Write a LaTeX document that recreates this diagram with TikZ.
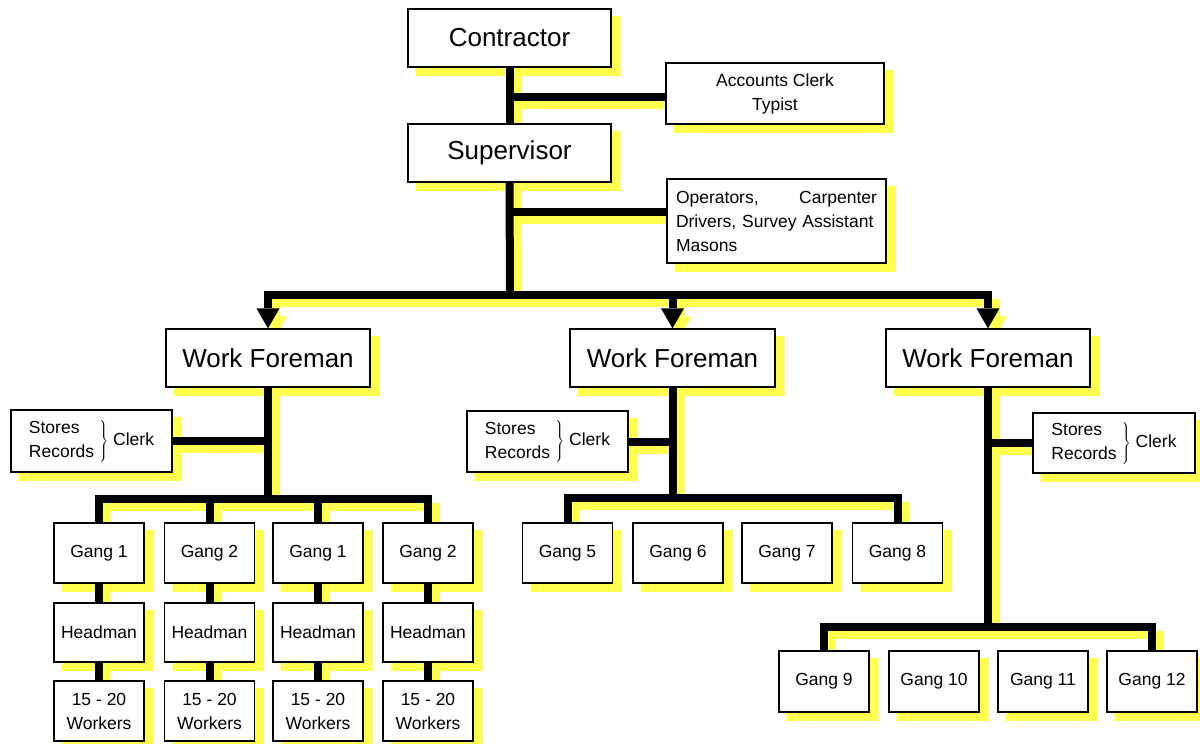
\documentclass[tikz,border=0pt]{standalone}
\usepackage{fontspec}
\setmainfont{Liberation Sans}
\usetikzlibrary{arrows.meta}
\definecolor{shadowyellow}{RGB}{255,255,80}
\pgfdeclarelayer{paper}
\pgfdeclarelayer{lineshadow}
\pgfdeclarelayer{boxshadow}
\pgfdeclarelayer{lines}
\pgfsetlayers{paper,lineshadow,boxshadow,lines,main}
\tikzset{
  conn/.style={draw, line width=8pt},
  tipline/.style={conn, -{Triangle[length=20pt,width=23pt,line width=0pt]}},
  box/.style={draw=black, line width=1.2pt, fill=white, inner sep=0pt, align=center,
    font=\fontsize{17.5}{24}\selectfont},
  bigbox/.style={box, minimum width=204pt, minimum height=58pt, font=\fontsize{26}{30}\selectfont},
  smallbox/.style={box, minimum width=90pt, minimum height=60pt},
  sidebox/.style={box, minimum width=161pt, minimum height=61pt},
}
\newcommand\storestext{\begin{tabular}{@{}l@{}}Stores\\Records\end{tabular}\hspace{4pt}$\left.\vrule height 17pt depth 17pt width 0pt\right\}$\hspace{5pt}Clerk}
\newcommand\orgconnectors{%
  \draw[conn] (contractor.south) -- (supervisor.north);
  \draw[conn] (acb) -- (acb -| contractor.south);
  \draw[conn] (opb) -- (opb -| supervisor.south);
  \draw[conn] (supervisor.south) -- (bus);
  \draw[conn, line cap=rect] (bus -| wfa.north) -- (bus -| wfc.north);
  \draw[tipline] (bus -| wfa.north) -- (wfa.north);
  \draw[tipline] (bus -| wfb.north) -- (wfb.north);
  \draw[tipline] (bus -| wfc.north) -- (wfc.north);
  % foreman 1
  \draw[conn] (wfa.south) -- (wfa.south |- sba);
  \draw[conn] (sta.east) -- (sta.east -| wfa.south);
  \draw[conn] (ga.north) -- (ga.north |- sba) -- (gd.north |- sba) -- (gd.north);
  \draw[conn] (gb.north) -- (gb.north |- sba);
  \draw[conn] (gc.north) -- (gc.north |- sba);
  \foreach \i in {a,b,c,d}{
    \draw[conn] (g\i.south) -- (h\i.north);
    \draw[conn] (h\i.south) -- (w\i.north);
  }
  % foreman 2
  \draw[conn] (wfb.south) -- (wfb.south |- sbb);
  \draw[conn] (stb.east) -- (stb.east -| wfb.south);
  \draw[conn] (g5.north) -- (g5.north |- sbb) -- (g8.north |- sbb) -- (g8.north);
  % foreman 3
  \draw[conn] (wfc.south) -- (wfc.south |- sbc);
  \draw[conn] (stc.west) -- (stc.west -| wfc.south);
  \draw[conn] (g9.north) -- (g9.north |- sbc) -- (g12.north |- sbc) -- (g12.north);
}
\begin{document}
\begin{tikzpicture}[x=1pt, y=-1pt]
\useasboundingbox (0,0) rectangle (1200,744);
\begin{pgfonlayer}{paper}
\fill[white] (0,0) rectangle (1200,744);
\end{pgfonlayer}
% top
\node[bigbox, minimum width=203pt] (contractor) at (509.5,38) {Contractor};
\node[box, minimum width=218pt, minimum height=61pt] (accounts) at (775,93.5) {Accounts Clerk\\Typist};
\path ([yshift=-3.5pt]accounts.west) coordinate (acb);
\node[bigbox, minimum width=203pt] (supervisor) at (509.5,153) {Supervisor};
\node[box, minimum width=219pt, minimum height=84pt, align=left, text width=201pt] (operators) at (776.5,221)
  {Operators,\hfill Carpenter\\Drivers, Survey Assistant\\Masons};
\path ([yshift=9pt]operators.west) coordinate (opb);
\coordinate (bus) at (510,295);
% foremen
\node[bigbox] (wfa) at (268,358) {Work Foreman};
\node[bigbox, minimum width=205pt] (wfb) at (672.5,358) {Work Foreman};
\node[bigbox] (wfc) at (988,358) {Work Foreman};
% stores
\node[sidebox, minimum height=62pt] (sta) at (91.5,441) {\storestext};
\node[sidebox] (stb) at (547.5,441.5) {\storestext};
\node[sidebox, minimum width=162pt, minimum height=60pt] (stc) at (1114,443) {\storestext};
\coordinate (sba) at (0,499);
\coordinate (sbb) at (0,498);
\coordinate (sbc) at (0,627);
% foreman 1 groups
\node[smallbox] (ga) at (99,553) {Gang 1};
\node[smallbox] (gb) at (209.5,553) {Gang 2};
\node[smallbox] (gc) at (318,553) {Gang 1};
\node[smallbox] (gd) at (428,553) {Gang 2};
\node[smallbox, minimum height=59pt] (ha) at (99,632.5) {Headman};
\node[smallbox, minimum height=59pt] (hb) at (209.5,632.5) {Headman};
\node[smallbox, minimum height=59pt] (hc) at (318,632.5) {Headman};
\node[smallbox, minimum height=59pt] (hd) at (428,632.5) {Headman};
\node[smallbox] (wa) at (99,711) {15 - 20\\Workers};
\node[smallbox] (wb) at (209.5,711) {15 - 20\\Workers};
\node[smallbox] (wc) at (318,711) {15 - 20\\Workers};
\node[smallbox] (wd) at (428,711) {15 - 20\\Workers};
% foreman 2 gangs
\node[smallbox] (g5) at (567.5,553) {Gang 5};
\node[smallbox] (g6) at (678,553) {Gang 6};
\node[smallbox] (g7) at (787,553) {Gang 7};
\node[smallbox] (g8) at (897.5,553) {Gang 8};
% foreman 3 gangs
\node[smallbox, minimum height=61pt] (g9) at (824,681.5) {Gang 9};
\node[smallbox, minimum height=61pt] (g10) at (934,681.5) {Gang 10};
\node[smallbox, minimum height=61pt] (g11) at (1043,681.5) {Gang 11};
\node[smallbox, minimum height=61pt] (g12) at (1152,681.5) {Gang 12};
% box shadows
\begin{pgfonlayer}{boxshadow}
\foreach \n in {contractor,accounts,supervisor,operators,wfa,wfb,wfc,sta,stb,stc,
  ga,gb,gc,gd,ha,hb,hc,hd,wa,wb,wc,wd,g5,g6,g7,g8,g9,g10,g11,g12}{
  \fill[shadowyellow] ([xshift=9pt,yshift=-8pt]\n.south west) rectangle ([xshift=9pt,yshift=-8pt]\n.north east);
}
\end{pgfonlayer}
% connector shadows
\begin{pgfonlayer}{lineshadow}
\begin{scope}[color=shadowyellow, transform canvas={shift={(8pt,-8pt)}}]
\orgconnectors
\end{scope}
\end{pgfonlayer}
% connectors
\begin{pgfonlayer}{lines}
\begin{scope}[color=black]
\orgconnectors
\end{scope}
\end{pgfonlayer}
\end{tikzpicture}
\end{document}
